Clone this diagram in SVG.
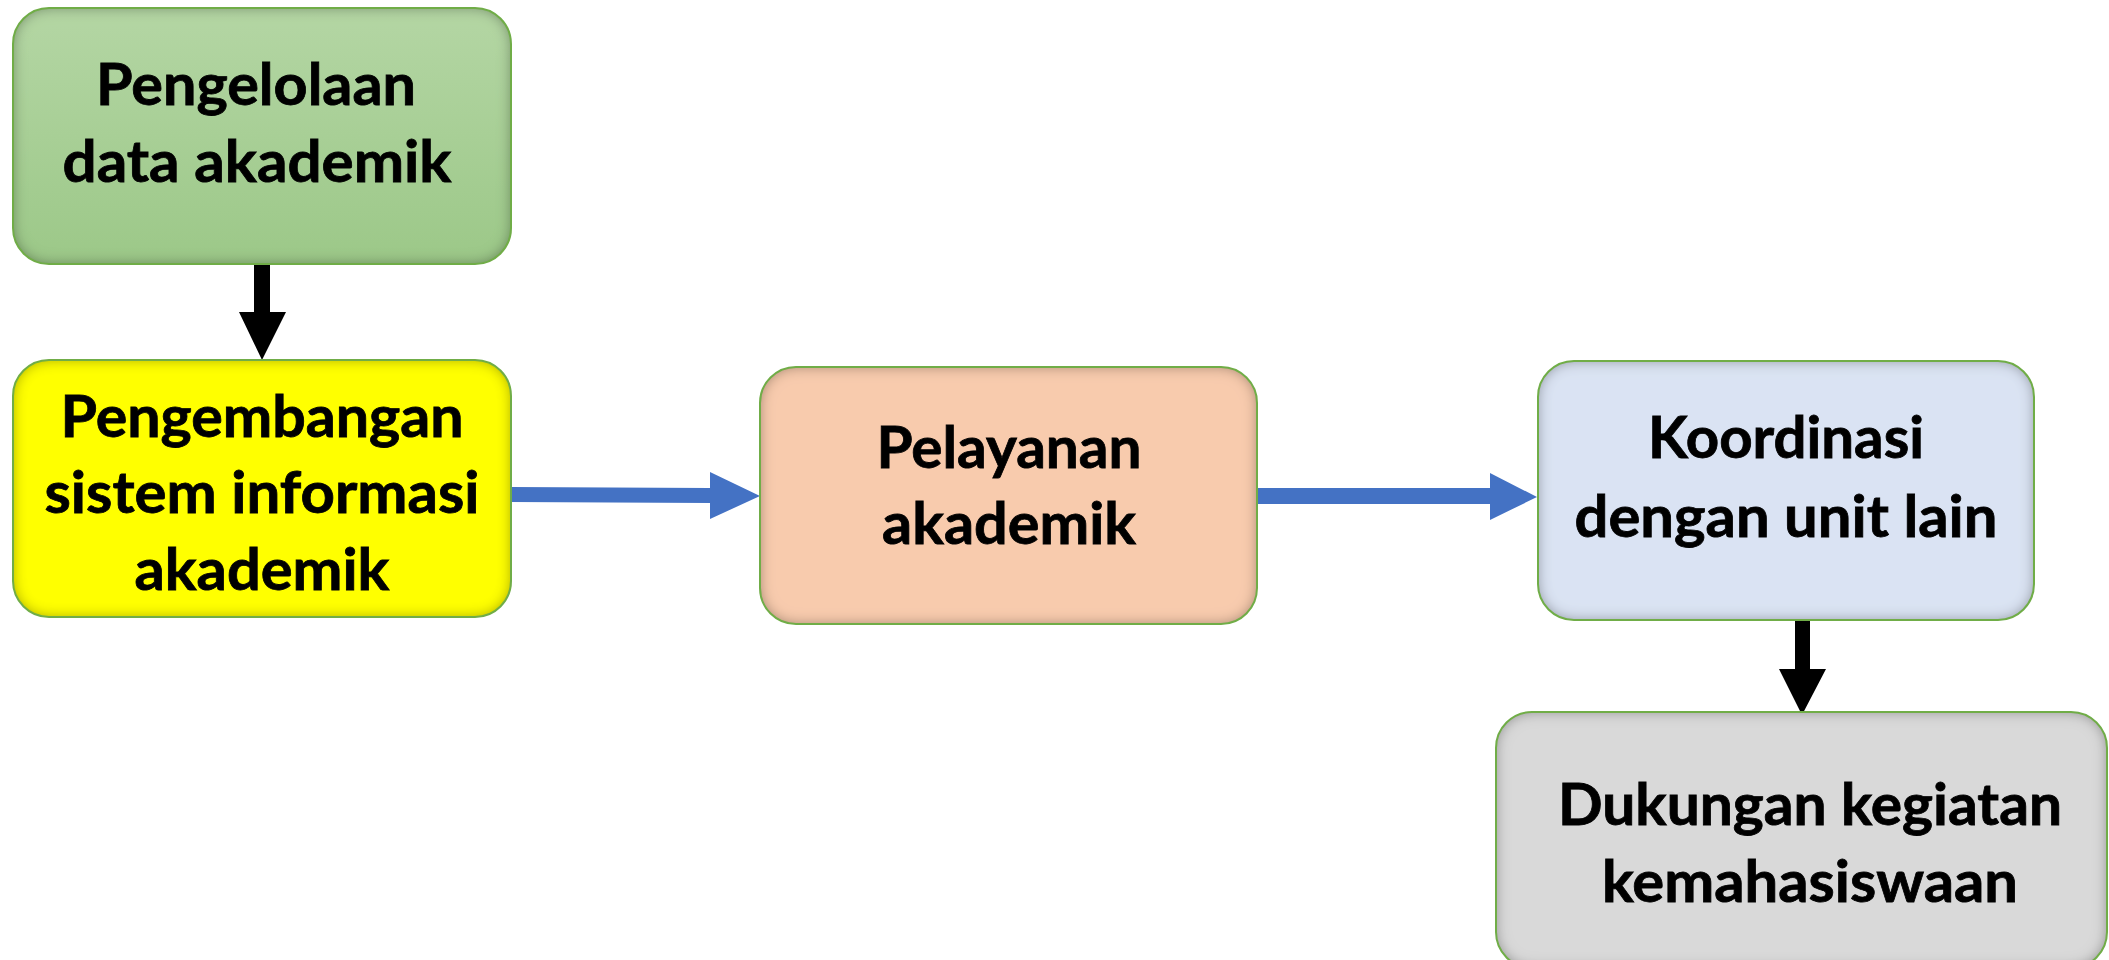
<svg xmlns="http://www.w3.org/2000/svg" width="2109" height="960" viewBox="0 0 2109 960">
<defs>
<linearGradient id="gGreen" x1="0" y1="0" x2="0" y2="1">
<stop offset="0" stop-color="#B4D6A4"/>
<stop offset="1" stop-color="#9CC888"/>
</linearGradient>
<filter id="inset" x="-5%" y="-5%" width="110%" height="110%">
<feComponentTransfer in="SourceAlpha" result="inv"><feFuncA type="table" tableValues="1 0"/></feComponentTransfer>
<feGaussianBlur in="inv" stdDeviation="7" result="blur"/>
<feFlood flood-color="#000" flood-opacity="0.7" result="col"/>
<feComposite in="col" in2="blur" operator="in" result="sh"/>
<feComposite in="sh" in2="SourceAlpha" operator="in" result="shin"/>
<feMerge><feMergeNode in="SourceGraphic"/><feMergeNode in="shin"/></feMerge>
</filter>
<style>
.box{filter:url(#inset);}
.edge{fill:none;stroke:#70AD47;stroke-width:2;}
.t{font-family:Lato,"Open Sans","Liberation Sans",sans-serif;font-weight:bold;font-size:58px;fill:#000;text-anchor:middle;stroke:#000;stroke-width:0.8;}
.blue{fill:#4472C4;}
.black{fill:#000;}
</style>
</defs>
<rect width="2109" height="960" fill="#fff"/>
<g id="connectors">
<polygon class="black" points="254,264 270,264 270,312 286,312 262,360 239,312 254,312"/>
<polygon class="blue" points="511,487 710,488 710,472 760,496 710,519 710,503 511,502"/>
<polygon class="blue" points="1257,488 1490,488 1490,473 1537,497 1490,520 1490,504 1257,504"/>
<polygon class="black" points="1795,621 1810,621 1810,669 1826,669 1802,715 1779,669 1795,669"/>
</g>
<g id="node-pengelolaan">
<rect class="box" x="13" y="8" width="498" height="256" rx="36" fill="url(#gGreen)"/>
<rect class="edge" x="13" y="8" width="498" height="256" rx="36"/>
<text class="t" x="256" y="105" textLength="320" lengthAdjust="spacingAndGlyphs">Pengelolaan</text>
<text class="t" x="257" y="182" textLength="389" lengthAdjust="spacingAndGlyphs">data akademik</text>
</g>
<g id="node-pengembangan">
<rect class="box" x="13" y="360" width="498" height="257" rx="36" fill="#FFFF00"/>
<rect class="edge" x="13" y="360" width="498" height="257" rx="36"/>
<text class="t" x="262" y="437" textLength="403" lengthAdjust="spacingAndGlyphs">Pengembangan</text>
<text class="t" x="262" y="513" textLength="435" lengthAdjust="spacingAndGlyphs">sistem informasi</text>
<text class="t" x="262" y="590" textLength="255" lengthAdjust="spacingAndGlyphs">akademik</text>
</g>
<g id="node-pelayanan">
<rect class="box" x="760" y="367" width="497" height="257" rx="36" fill="#F8CBAD"/>
<rect class="edge" x="760" y="367" width="497" height="257" rx="36"/>
<text class="t" x="1009" y="468" textLength="265" lengthAdjust="spacingAndGlyphs">Pelayanan</text>
<text class="t" x="1009" y="544" textLength="254" lengthAdjust="spacingAndGlyphs">akademik</text>
</g>
<g id="node-koordinasi">
<rect class="box" x="1538" y="361" width="496" height="259" rx="36" fill="#DAE3F3"/>
<rect class="edge" x="1538" y="361" width="496" height="259" rx="36"/>
<text class="t" x="1786" y="458" textLength="276" lengthAdjust="spacingAndGlyphs">Koordinasi</text>
<text class="t" x="1786" y="537" textLength="423" lengthAdjust="spacingAndGlyphs">dengan unit lain</text>
</g>
<g id="node-dukungan">
<rect class="box" x="1496" y="712" width="611" height="256" rx="36" fill="#D9D9D9"/>
<rect class="edge" x="1496" y="712" width="611" height="256" rx="36"/>
<text class="t" x="1810" y="825" textLength="504" lengthAdjust="spacingAndGlyphs">Dukungan kegiatan</text>
<text class="t" x="1810" y="902" textLength="416" lengthAdjust="spacingAndGlyphs">kemahasiswaan</text>
</g>
</svg>
